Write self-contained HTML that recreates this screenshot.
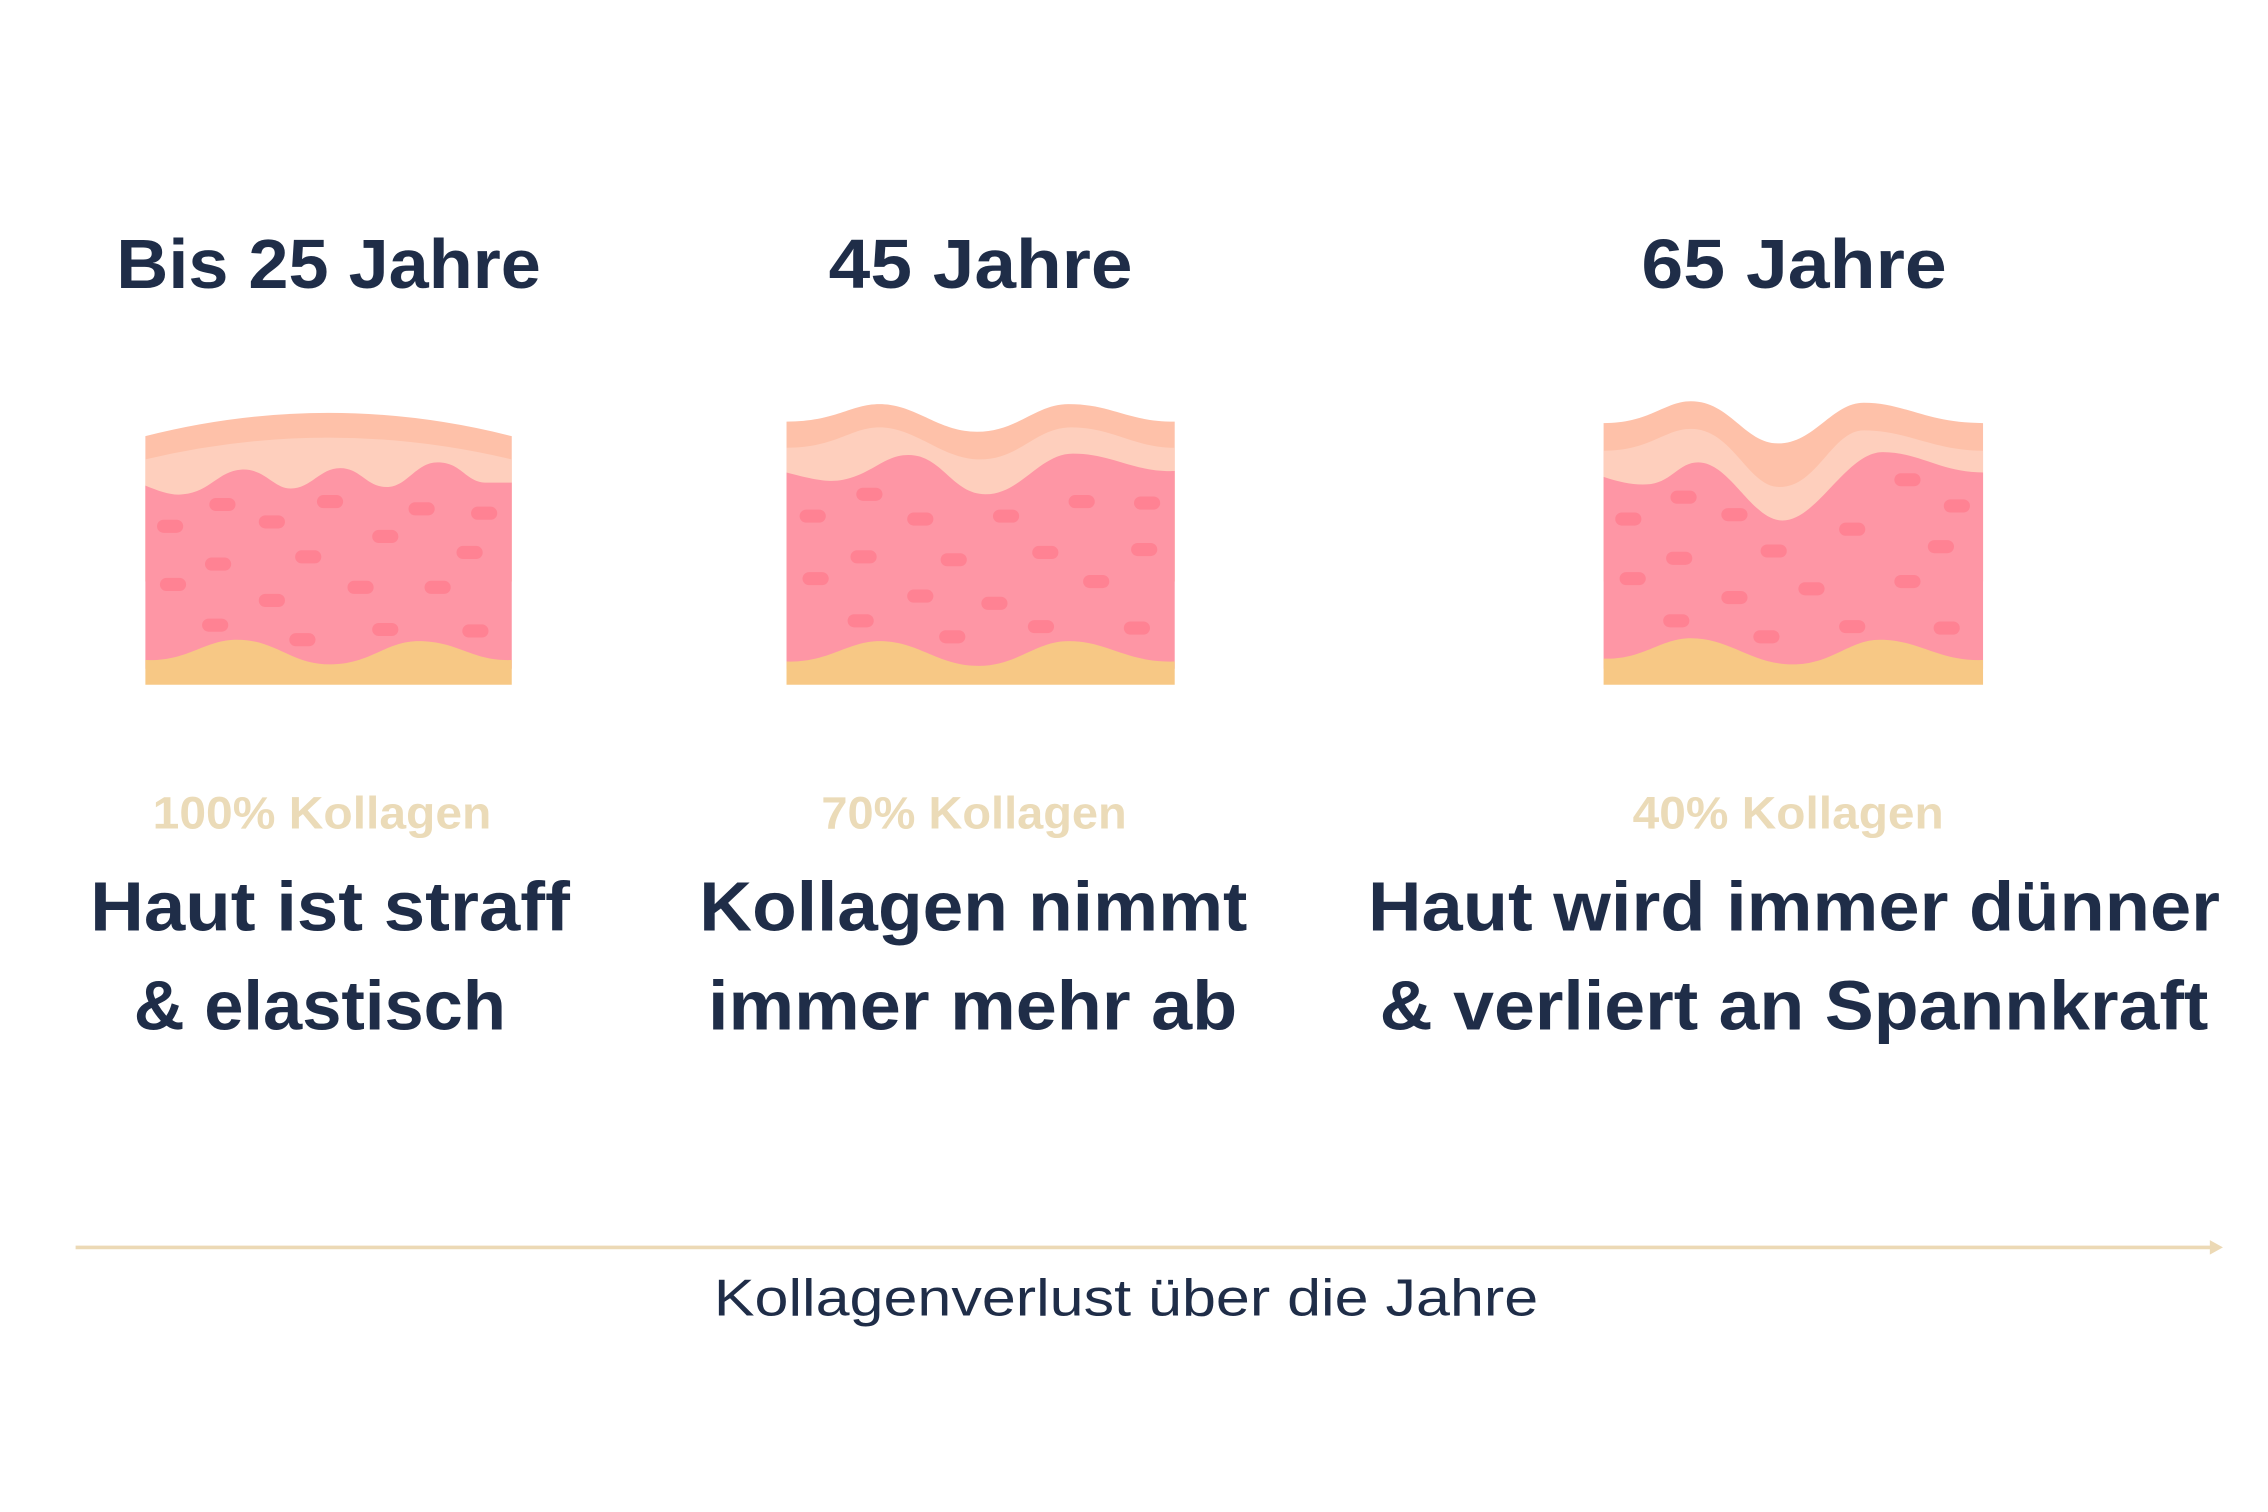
<!DOCTYPE html>
<html><head><meta charset="utf-8"><style>
html,body{margin:0;padding:0;background:#fff;}
svg{display:block;}
</style></head><body>
<svg width="2268" height="1512" viewBox="0 0 1560 1040" xmlns="http://www.w3.org/2000/svg">
<rect width="1560" height="1040" fill="#fff"/>
<!-- Panel 1 -->
<g>
<path d="M100 300 Q226 268 352 300 L352 400 L100 400 Z" fill="#fec1a9"/>
<path d="M100 316 Q226 286 352 316 L352 400 L100 400 Z" fill="#fecfbd"/>
<path d="M100 334 C110 338 118 341 126 340 C145 338 150 324 166 323 C182 322 188 336 200 336 C214 336 220 322 234 322 C248 322 252 335 266 335 C280 335 286 318 301 318 C318 318 320 332 335 332 L352 332 L352 460 L100 460 Z" fill="#fe96a5"/>
<path d="M100 454 C130 455 140 440 163 440 C190 440 200 457 227 457 C255 457 265 441 288 441 C315 441 325 455 352 454 L352 471 L100 471 Z" fill="#f7c885"/>
</g>
<!-- Panel 2 -->
<g>
<path d="M541 290 C575 290 585 278 605 278 C630 278 645 297 672 297 C700 297 712 278 735 278 C765 278 775 290 808 290 L808 400 L541 400 Z" fill="#fec1a9"/>
<path d="M541 308 C575 308 585 294 605 294 C630 294 648 316 674 316 C702 316 712 294 737 294 C765 294 780 308 808 308 L808 400 L541 400 Z" fill="#fecfbd"/>
<path d="M541 325 C560 330 570 332 580 330 C600 326 608 313 625 313 C648 313 655 340 678 340 C702 340 715 312 738 312 C765 312 780 325 808 324 L808 460 L541 460 Z" fill="#fe96a5"/>
<path d="M541 455 C570 456 583 441 605 441 C632 441 645 458 673 458 C700 458 712 441 735 441 C762 441 775 456 808 455 L808 471 L541 471 Z" fill="#f7c885"/>
</g>
<!-- Panel 3 -->
<g>
<path d="M1103 291 C1135 291 1145 276 1163 276 C1190 276 1200 305 1223 305 C1248 305 1260 277 1282 277 C1310 277 1325 291 1364 291 L1364 400 L1103 400 Z" fill="#fec1a9"/>
<path d="M1103 310 C1135 310 1145 295 1163 295 C1192 295 1202 335 1224 335 C1250 335 1260 296 1282 296 C1312 296 1330 310 1364 310 L1364 400 L1103 400 Z" fill="#fecfbd"/>
<path d="M1103 328 C1115 332 1125 334 1135 333 C1150 331 1155 318 1168 318 C1190 318 1205 358 1226 358 C1250 358 1270 311 1295 311 C1320 311 1335 325 1364 325 L1364 460 L1103 460 Z" fill="#fe96a5"/>
<path d="M1103 453 C1130 454 1142 439 1163 439 C1190 439 1205 457 1233 457 C1260 457 1272 440 1293 440 C1320 440 1333 455 1364 454 L1364 471 L1103 471 Z" fill="#f7c885"/>
</g>
<g fill="#ff8293">
<rect x="108" y="357.5" width="18" height="9" rx="4.5"/><rect x="144" y="342.5" width="18" height="9" rx="4.5"/><rect x="178" y="354.5" width="18" height="9" rx="4.5"/><rect x="218" y="340.5" width="18" height="9" rx="4.5"/><rect x="281" y="345.5" width="18" height="9" rx="4.5"/><rect x="324" y="348.5" width="18" height="9" rx="4.5"/><rect x="141" y="383.5" width="18" height="9" rx="4.5"/><rect x="203" y="378.5" width="18" height="9" rx="4.5"/><rect x="256" y="364.5" width="18" height="9" rx="4.5"/><rect x="314" y="375.5" width="18" height="9" rx="4.5"/><rect x="110" y="397.5" width="18" height="9" rx="4.5"/><rect x="178" y="408.5" width="18" height="9" rx="4.5"/><rect x="239" y="399.5" width="18" height="9" rx="4.5"/><rect x="292" y="399.5" width="18" height="9" rx="4.5"/><rect x="139" y="425.5" width="18" height="9" rx="4.5"/><rect x="199" y="435.5" width="18" height="9" rx="4.5"/><rect x="256" y="428.5" width="18" height="9" rx="4.5"/><rect x="318" y="429.5" width="18" height="9" rx="4.5"/>
<rect x="550" y="350.5" width="18" height="9" rx="4.5"/><rect x="589" y="335.5" width="18" height="9" rx="4.5"/><rect x="624" y="352.5" width="18" height="9" rx="4.5"/><rect x="683" y="350.5" width="18" height="9" rx="4.5"/><rect x="735" y="340.5" width="18" height="9" rx="4.5"/><rect x="780" y="341.5" width="18" height="9" rx="4.5"/><rect x="585" y="378.5" width="18" height="9" rx="4.5"/><rect x="647" y="380.5" width="18" height="9" rx="4.5"/><rect x="710" y="375.5" width="18" height="9" rx="4.5"/><rect x="778" y="373.5" width="18" height="9" rx="4.5"/><rect x="552" y="393.5" width="18" height="9" rx="4.5"/><rect x="624" y="405.5" width="18" height="9" rx="4.5"/><rect x="675" y="410.5" width="18" height="9" rx="4.5"/><rect x="745" y="395.5" width="18" height="9" rx="4.5"/><rect x="583" y="422.5" width="18" height="9" rx="4.5"/><rect x="646" y="433.5" width="18" height="9" rx="4.5"/><rect x="707" y="426.5" width="18" height="9" rx="4.5"/><rect x="773" y="427.5" width="18" height="9" rx="4.5"/>
<rect x="1111" y="352.5" width="18" height="9" rx="4.5"/><rect x="1149" y="337.5" width="18" height="9" rx="4.5"/><rect x="1184" y="349.5" width="18" height="9" rx="4.5"/><rect x="1211" y="374.5" width="18" height="9" rx="4.5"/><rect x="1265" y="359.5" width="18" height="9" rx="4.5"/><rect x="1303" y="325.5" width="18" height="9" rx="4.5"/><rect x="1337" y="343.5" width="18" height="9" rx="4.5"/><rect x="1146" y="379.5" width="18" height="9" rx="4.5"/><rect x="1114" y="393.5" width="18" height="9" rx="4.5"/><rect x="1184" y="406.5" width="18" height="9" rx="4.5"/><rect x="1237" y="400.5" width="18" height="9" rx="4.5"/><rect x="1303" y="395.5" width="18" height="9" rx="4.5"/><rect x="1144" y="422.5" width="18" height="9" rx="4.5"/><rect x="1206" y="433.5" width="18" height="9" rx="4.5"/><rect x="1265" y="426.5" width="18" height="9" rx="4.5"/><rect x="1330" y="427.5" width="18" height="9" rx="4.5"/><rect x="1326" y="371.5" width="18" height="9" rx="4.5"/>
</g>
<g font-family="Liberation Sans, sans-serif" font-weight="bold" fill="#1f2d48" font-size="48">
<text x="80" y="198" textLength="292" lengthAdjust="spacingAndGlyphs">Bis 25 Jahre</text>
<text x="570" y="198" textLength="209" lengthAdjust="spacingAndGlyphs">45 Jahre</text>
<text x="1129" y="198" textLength="210" lengthAdjust="spacingAndGlyphs">65 Jahre</text>
</g>
<g font-family="Liberation Sans, sans-serif" font-weight="bold" fill="#ebdbb8" font-size="31">
<text x="105" y="570" textLength="233" lengthAdjust="spacingAndGlyphs">100% Kollagen</text>
<text x="565" y="570" textLength="210" lengthAdjust="spacingAndGlyphs">70% Kollagen</text>
<text x="1123" y="570" textLength="214" lengthAdjust="spacingAndGlyphs">40% Kollagen</text>
</g>
<g font-family="Liberation Sans, sans-serif" font-weight="bold" fill="#1f2d48" font-size="48">
<text x="62" y="640" textLength="330" lengthAdjust="spacingAndGlyphs">Haut ist straff</text>
<text x="92" y="708" textLength="256" lengthAdjust="spacingAndGlyphs">&amp; elastisch</text>
<text x="481" y="640" textLength="377" lengthAdjust="spacingAndGlyphs">Kollagen nimmt</text>
<text x="487" y="708" textLength="364" lengthAdjust="spacingAndGlyphs">immer mehr ab</text>
<text x="941" y="640" textLength="586" lengthAdjust="spacingAndGlyphs">Haut wird immer dünner</text>
<text x="949" y="708" textLength="570" lengthAdjust="spacingAndGlyphs">&amp; verliert an Spannkraft</text>
</g>
<line x1="52" y1="858" x2="1524" y2="858" stroke="#ecd9b5" stroke-width="2.5"/>
<path d="M1520 853 L1529 858 L1520 863 Z" fill="#ecd9b5"/>
<text x="491" y="905" textLength="567" lengthAdjust="spacingAndGlyphs" font-family="Liberation Sans, sans-serif" font-size="36" fill="#1f2d48">Kollagenverlust über die Jahre</text>
</svg>
</body></html>
